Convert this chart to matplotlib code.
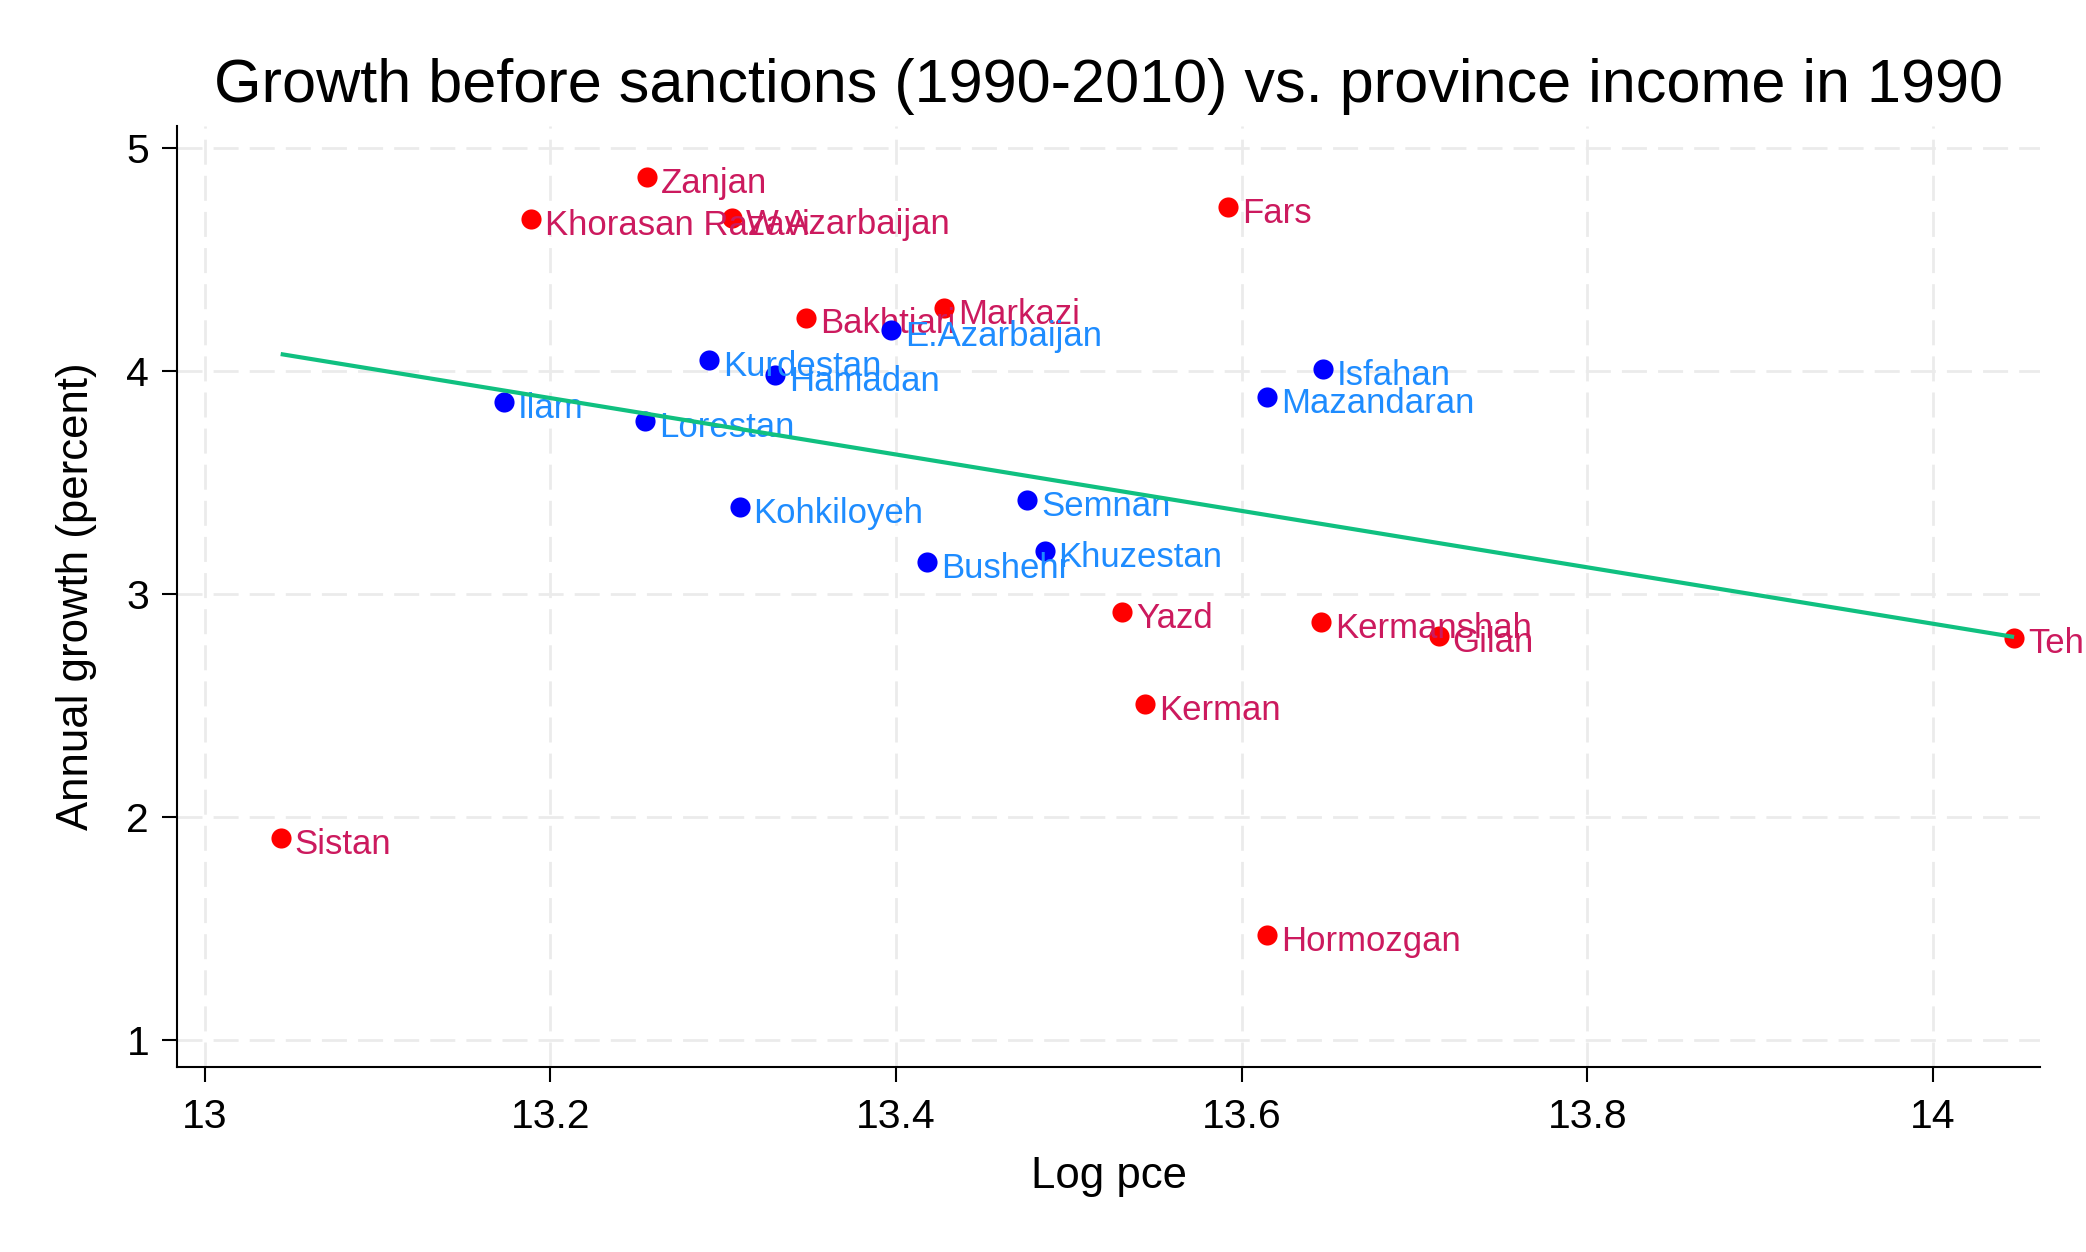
import numpy as np
import matplotlib
matplotlib.use("Agg")
import matplotlib.pyplot as plt

plt.rcParams['font.family'] = ['Liberation Sans', 'DejaVu Sans']
plt.rcParams['lines.scale_dashes'] = False

# ---- data ----
red_names = ["Zanjan", "Khorasan Razavi", "W.Azarbaijan", "Fars", "Bakhtiari", "Markazi",
             "Yazd", "Kermanshah", "Gilan", "Tehran", "Kerman", "Sistan", "Hormozgan"]
red_x = [13.256, 13.189, 13.305, 13.592, 13.348, 13.428,
         13.531, 13.646, 13.714, 14.047, 13.544, 13.044, 13.615]
red_y = [4.869, 4.680, 4.683, 4.733, 4.239, 4.282,
         2.919, 2.874, 2.810, 2.804, 2.505, 1.906, 1.471]

blue_names = ["E.Azarbaijan", "Kurdestan", "Hamadan", "Isfahan", "Mazandaran", "Ilam",
              "Lorestan", "Kohkiloyeh", "Semnan", "Khuzestan", "Bushehr"]
blue_x = [13.397, 13.292, 13.330, 13.647, 13.615, 13.173,
          13.255, 13.3095, 13.476, 13.486, 13.418]
blue_y = [4.185, 4.048, 3.981, 4.006, 3.881, 3.861,
          3.776, 3.390, 3.420, 3.193, 3.141]

x_ticks = [13, 13.2, 13.4, 13.6, 13.8, 14]
x_tick_labels = ["13", "13.2", "13.4", "13.6", "13.8", "14"]
y_ticks = [1, 2, 3, 4, 5]
y_tick_labels = ["1", "2", "3", "4", "5"]

title = "Growth before sanctions (1990-2010) vs. province income in 1990"
xlabel = "Log pce"
ylabel = "Annual growth (percent)"

# ---- styling ----
RED_MK = "#FF0000"
RED_LB = "#CC1A5E"
BLUE_MK = "#0000FF"
BLUE_LB = "#1E8CFF"
FIT_C = "#10C080"

fig = plt.figure(figsize=(20.86, 12.52), dpi=100)
ax = fig.add_axes([0.08485, 0.14776, 0.8931, 0.752])

ax.set_xlim(12.984, 14.062)
ax.set_ylim(0.878, 5.10)

for s in ["top", "right"]:
    ax.spines[s].set_visible(False)
for s in ["left", "bottom"]:
    ax.spines[s].set_linewidth(1.5)
    ax.spines[s].set_color("black")

ax.set_xticks(x_ticks)
ax.set_xticklabels(x_tick_labels)
ax.set_yticks(y_ticks)
ax.set_yticklabels(y_tick_labels)
ax.tick_params(axis="both", direction="out", length=11, width=1.5, labelsize=29.5, colors="black")
ax.tick_params(axis="x", pad=11)
ax.tick_params(axis="y", pad=9)

ax.grid(True, color="#EBEBEB", linewidth=2, linestyle=(0, (18, 8)), zorder=0)
ax.set_axisbelow(True)

ms = 210
ax.scatter(red_x, red_y, s=ms, color=RED_MK, zorder=3, linewidths=0)
for n, x, y in zip(red_names, red_x, red_y):
    ax.annotate(n, (x, y), xytext=(10, -11.5), textcoords="offset points",
                ha="left", va="baseline", fontsize=25, color=RED_LB, zorder=4,
                annotation_clip=False)

ax.scatter(blue_x, blue_y, s=ms, color=BLUE_MK, zorder=5, linewidths=0)
for n, x, y in zip(blue_names, blue_x, blue_y):
    ax.annotate(n, (x, y), xytext=(10, -11.5), textcoords="offset points",
                ha="left", va="baseline", fontsize=25, color=BLUE_LB, zorder=6,
                annotation_clip=False)

all_x = np.array(red_x + blue_x)
all_y = np.array(red_y + blue_y)
slope, intercept = np.polyfit(all_x, all_y, 1)
fx = np.array([all_x.min(), all_x.max()])
ax.plot(fx, intercept + slope * fx, color=FIT_C, linewidth=3, zorder=7, solid_capstyle="butt")

ax.set_title(title, fontsize=44, pad=17)
ax.set_xlabel(xlabel, fontsize=31.5, labelpad=15)
ax.set_ylabel(ylabel, fontsize=31.5, labelpad=21)

fig.savefig("out.png", dpi=100)
